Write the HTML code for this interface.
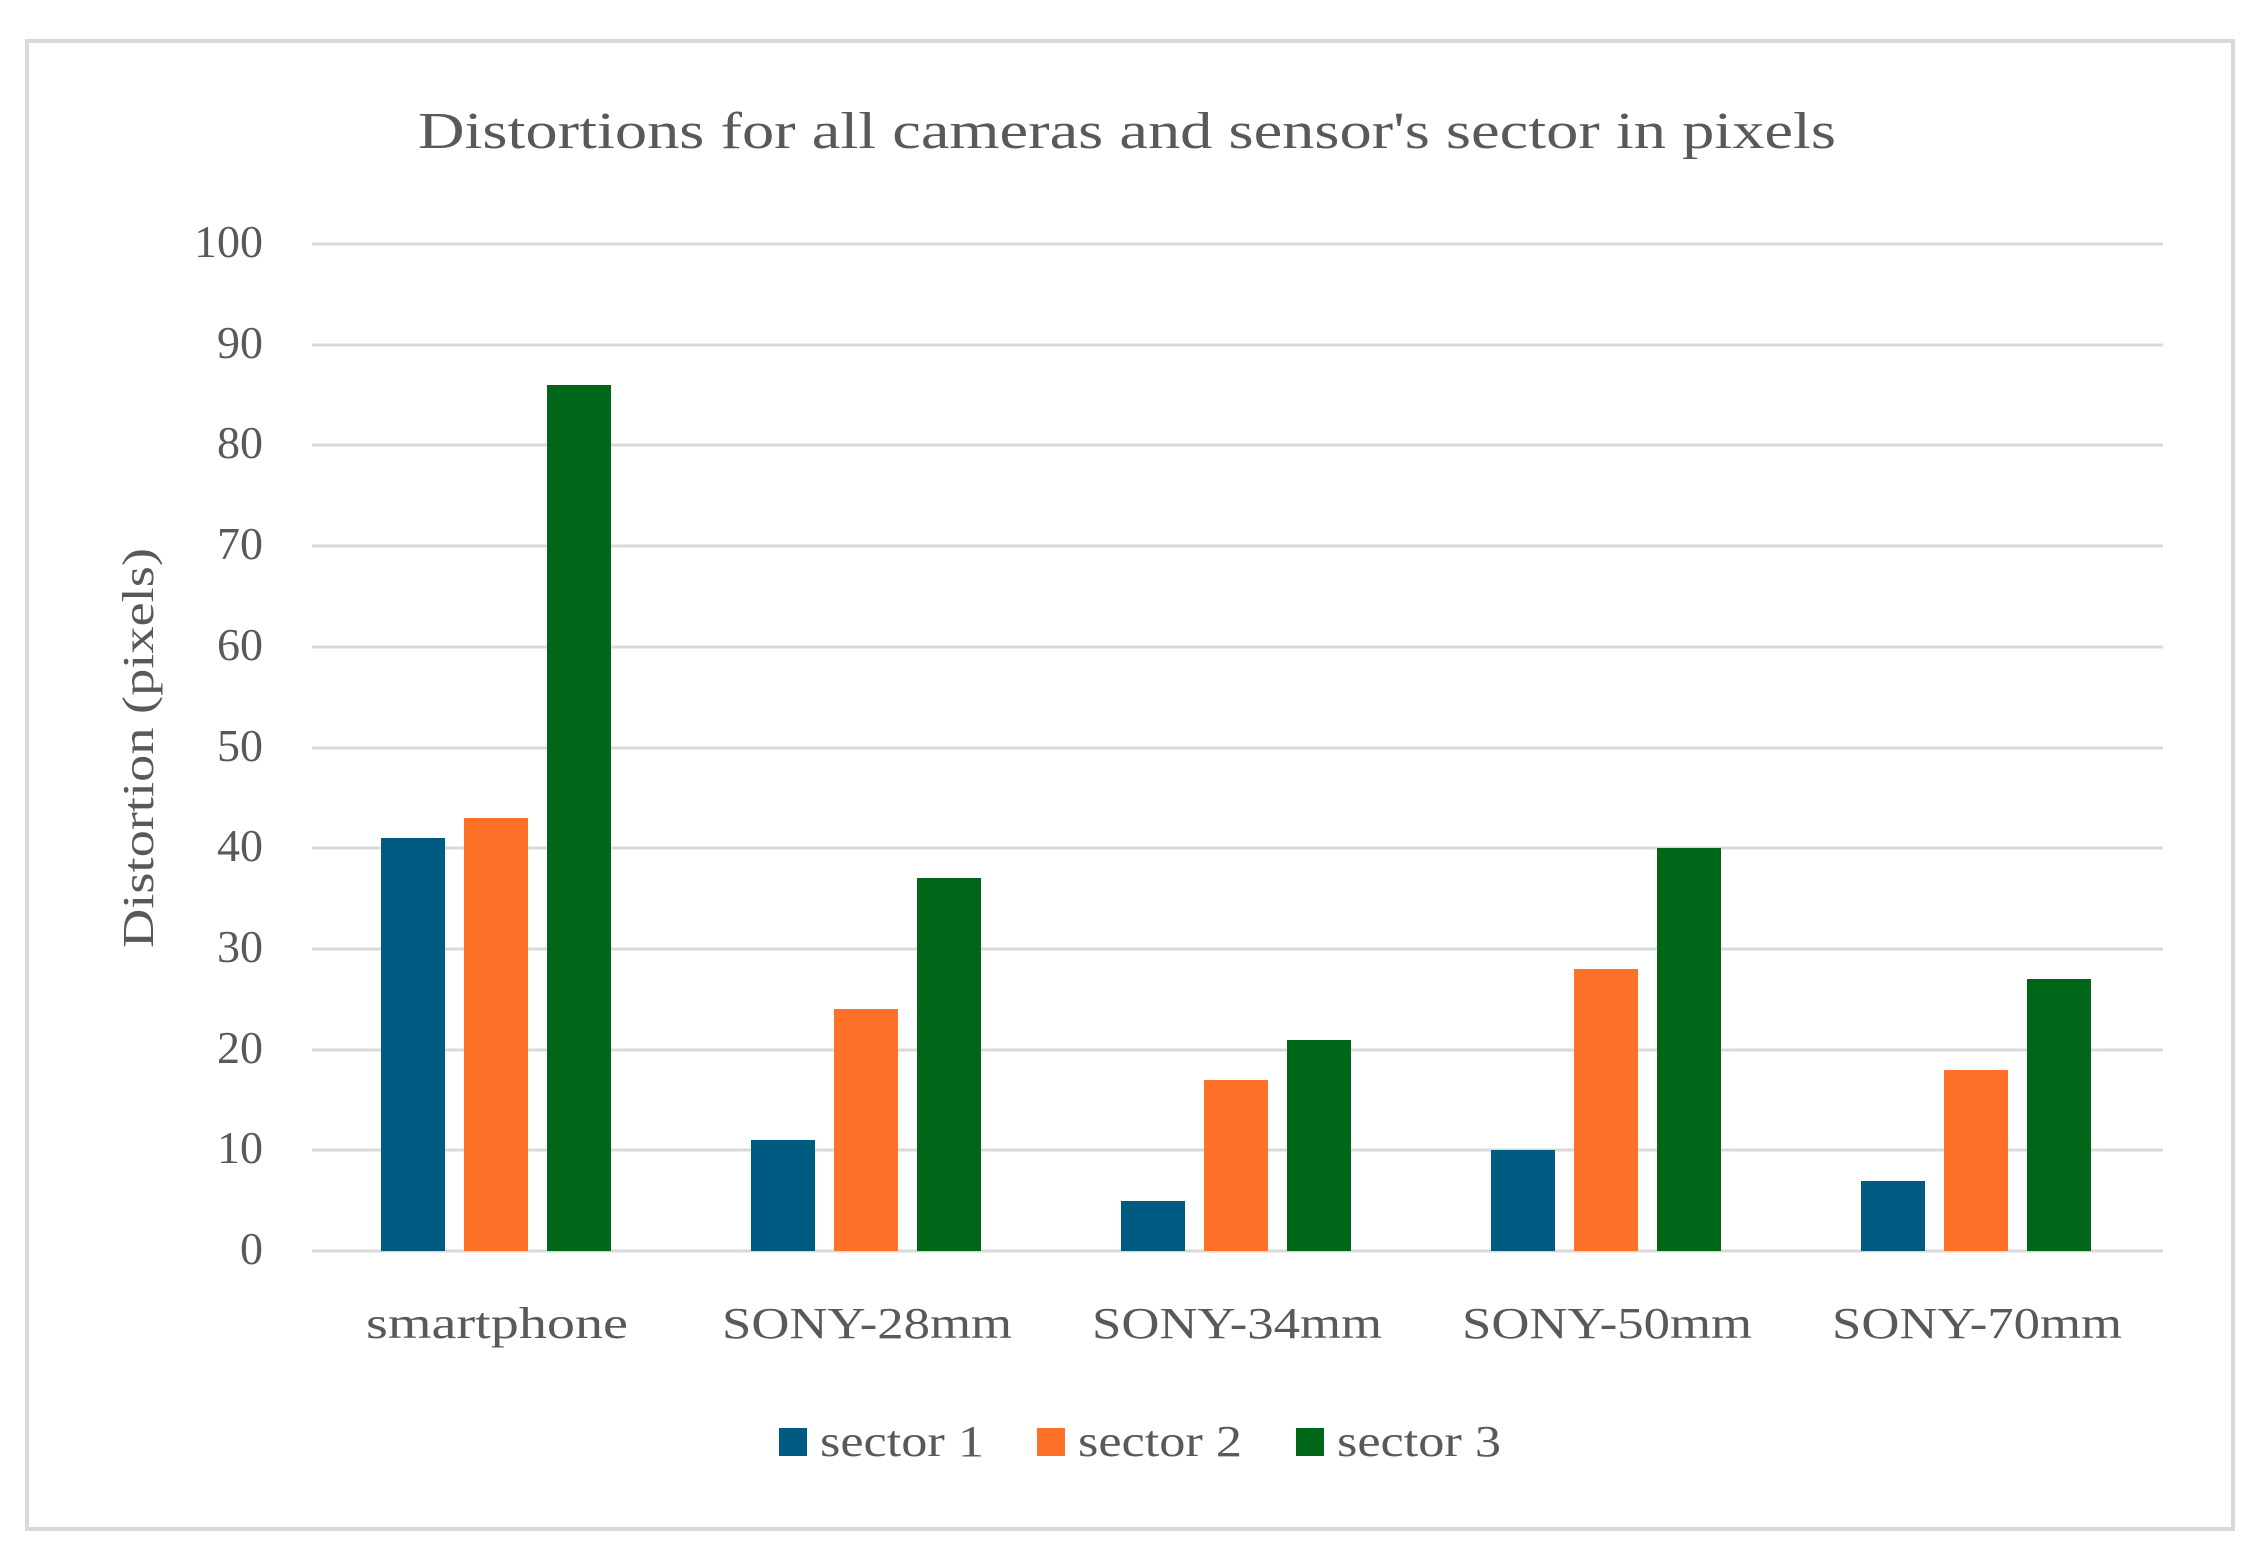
<!DOCTYPE html>
<html><head><meta charset="utf-8"><style>html,body{margin:0;padding:0;background:#fff}svg{display:block}</style></head>
<body>
<svg width="2253" height="1563" viewBox="0 0 2253 1563" xmlns="http://www.w3.org/2000/svg" font-family="'Liberation Serif', serif" fill="#595959">
<rect x="0" y="0" width="2253" height="1563" fill="#fff"/>
<rect x="27" y="41" width="2206" height="1488" fill="#fff" stroke="#d9d9d9" stroke-width="4"/>
<text x="1127" y="148" font-size="52" text-anchor="middle" textLength="1418" lengthAdjust="spacingAndGlyphs">Distortions for all cameras and sensor's sector in pixels</text>
<g stroke="#d9d9d9" stroke-width="3">
<line x1="312" x2="2163" y1="244" y2="244"/>
<line x1="312" x2="2163" y1="345" y2="345"/>
<line x1="312" x2="2163" y1="445" y2="445"/>
<line x1="312" x2="2163" y1="546" y2="546"/>
<line x1="312" x2="2163" y1="647" y2="647"/>
<line x1="312" x2="2163" y1="748" y2="748"/>
<line x1="312" x2="2163" y1="848" y2="848"/>
<line x1="312" x2="2163" y1="949" y2="949"/>
<line x1="312" x2="2163" y1="1050" y2="1050"/>
<line x1="312" x2="2163" y1="1150" y2="1150"/>
<line x1="312" x2="2163" y1="1251" y2="1251"/>
</g>
<g font-size="46" text-anchor="end">
<text x="263" y="257">100</text><text x="263" y="358">90</text><text x="263" y="458">80</text>
<text x="263" y="559">70</text><text x="263" y="660">60</text><text x="263" y="761">50</text>
<text x="263" y="861">40</text><text x="263" y="962">30</text><text x="263" y="1063">20</text>
<text x="263" y="1163">10</text><text x="263" y="1264">0</text>
</g>
<text transform="translate(153,748) rotate(-90)" font-size="44" text-anchor="middle" textLength="400" lengthAdjust="spacingAndGlyphs">Distortion (pixels)</text>
<g>
<rect x="381" y="838" width="64" height="413" fill="#005b82"/>
<rect x="464" y="818" width="64" height="433" fill="#ff7029"/>
<rect x="547" y="385" width="64" height="866" fill="#006618"/>
<rect x="751" y="1140" width="64" height="111" fill="#005b82"/>
<rect x="834" y="1009" width="64" height="242" fill="#ff7029"/>
<rect x="917" y="878" width="64" height="373" fill="#006618"/>
<rect x="1121" y="1201" width="64" height="50" fill="#005b82"/>
<rect x="1204" y="1080" width="64" height="171" fill="#ff7029"/>
<rect x="1287" y="1040" width="64" height="211" fill="#006618"/>
<rect x="1491" y="1150" width="64" height="101" fill="#005b82"/>
<rect x="1574" y="969" width="64" height="282" fill="#ff7029"/>
<rect x="1657" y="848" width="64" height="403" fill="#006618"/>
<rect x="1861" y="1181" width="64" height="70" fill="#005b82"/>
<rect x="1944" y="1070" width="64" height="181" fill="#ff7029"/>
<rect x="2027" y="979" width="64" height="272" fill="#006618"/>
</g>
<g font-size="44" text-anchor="middle">
<text x="497" y="1338" textLength="262" lengthAdjust="spacingAndGlyphs">smartphone</text>
<text x="867" y="1338" textLength="290" lengthAdjust="spacingAndGlyphs">SONY-28mm</text>
<text x="1237" y="1338" textLength="290" lengthAdjust="spacingAndGlyphs">SONY-34mm</text>
<text x="1607" y="1338" textLength="290" lengthAdjust="spacingAndGlyphs">SONY-50mm</text>
<text x="1977" y="1338" textLength="290" lengthAdjust="spacingAndGlyphs">SONY-70mm</text>
</g>
<g font-size="44">
<rect x="779" y="1428" width="28" height="28" fill="#005b82"/>
<text x="820" y="1456" textLength="164" lengthAdjust="spacingAndGlyphs">sector 1</text>
<rect x="1037" y="1428" width="28" height="28" fill="#ff7029"/>
<text x="1078" y="1456" textLength="164" lengthAdjust="spacingAndGlyphs">sector 2</text>
<rect x="1296" y="1428" width="28" height="28" fill="#006618"/>
<text x="1337" y="1456" textLength="164" lengthAdjust="spacingAndGlyphs">sector 3</text>
</g>
</svg>
</body></html>
